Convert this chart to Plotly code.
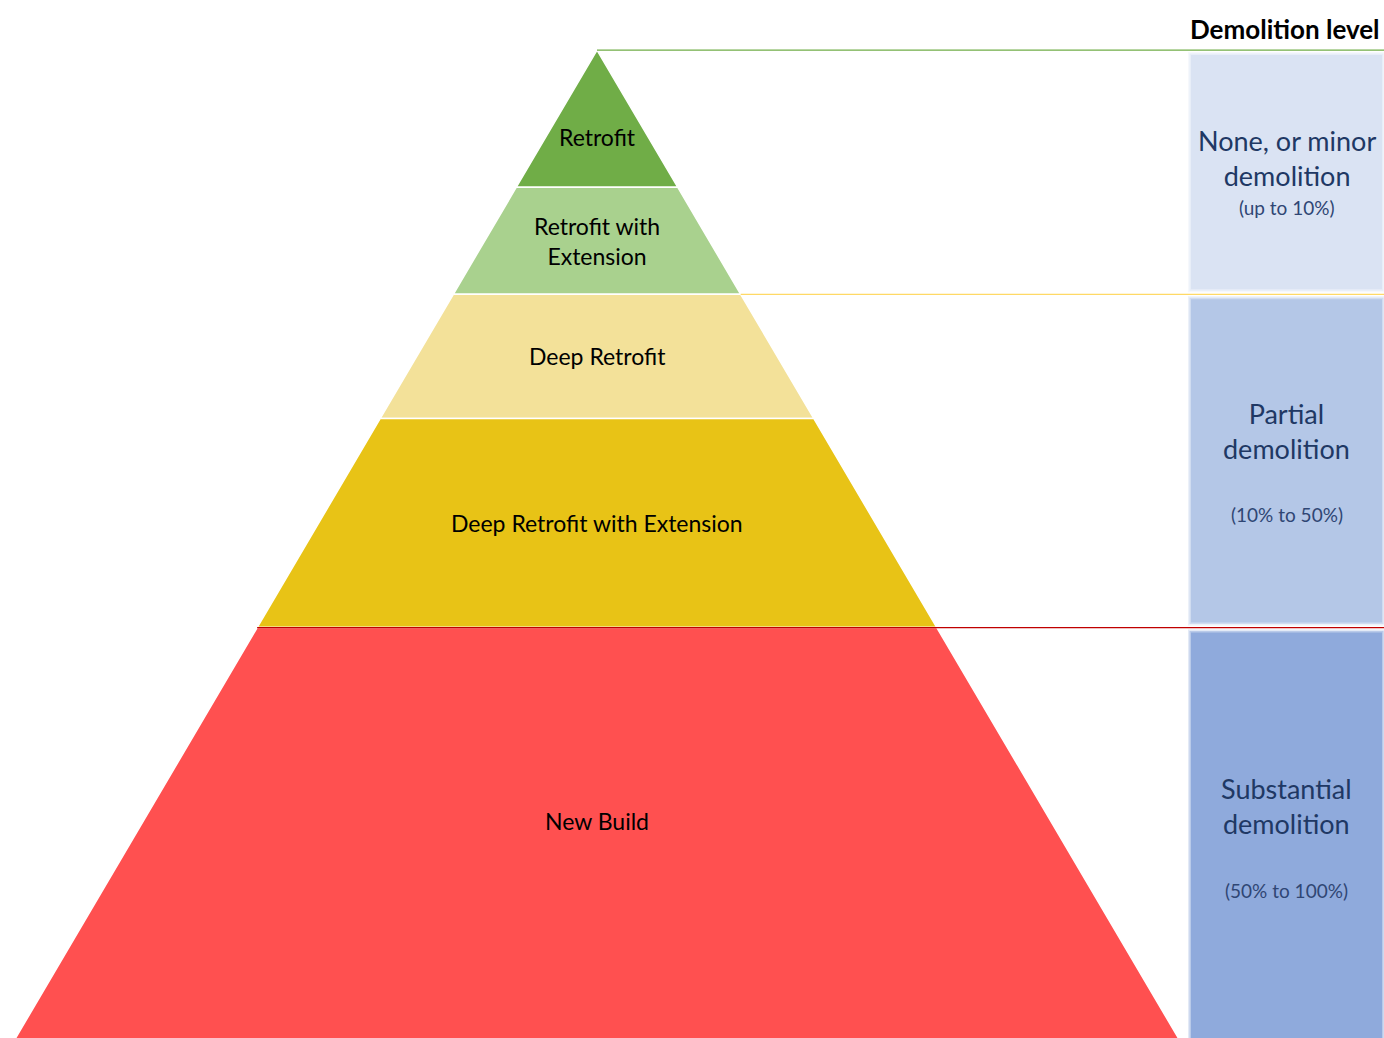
import plotly.graph_objects as go

# Pyramid layers, top to bottom; depths measured downward from the apex
layer_names = ["Retrofit", "Retrofit with<br>Extension", "Deep Retrofit",
               "Deep Retrofit with Extension", "New Build"]
layer_top = [0, 137, 244, 368, 577]
layer_bottom = [137, 244, 368, 577, 988]
layer_colors = ["#70AD47", "#A9D18E", "#F3E199", "#E8C316", "#FF5050"]

# Demolition bands on the right
band_titles = ["None, or minor<br>demolition", "Partial<br>demolition",
               "Substantial<br>demolition"]
band_ranges = ["(up to 10%)", "(10% to 50%)", "(50% to 100%)"]
band_top = [0, 244, 577]
band_bottom = [244, 577, 988]
band_colors = ["#DAE3F3", "#B4C7E7", "#8FAADC"]
band_line_colors = ["#70AD47", "#FFD966", "#C00000"]

SLOPE = 0.589          # half-width per unit of depth
FONT = "Lato"
NAVY = "#203864"

fig = go.Figure()

# pyramid slices
for name, t, b, c in zip(layer_names, layer_top, layer_bottom, layer_colors):
    ht, hb = t * SLOPE, b * SLOPE
    fig.add_trace(go.Scatter(
        x=[-ht, ht, hb, -hb, -ht], y=[t, t, b, b, t],
        mode="lines", fill="toself", fillcolor=c,
        line=dict(color="white", width=1.5),
        hoverinfo="skip", showlegend=False))

label_shift = [18, 0, 0, 0, -12]
for name, t, b, s in zip(layer_names, layer_top, layer_bottom, label_shift):
    fig.add_annotation(x=0, y=(t + b) / 2 + s, text=name, showarrow=False,
                       font=dict(family=FONT, size=23, color="black"))

# guide lines to the right margin; the lowest one runs across the pyramid
x_right = 787
for i, (t, c) in enumerate(zip(band_top, band_line_colors)):
    x_start = -t * SLOPE if i == len(band_top) - 1 else t * SLOPE
    fig.add_shape(type="line", x0=x_start, x1=x_right, y0=t, y1=t,
                  line=dict(color=c, width=1.3), layer="above")

# demolition level boxes with soft edges
bx0, bx1 = 594, 785
for i, (t, b, c) in enumerate(zip(band_top, band_bottom, band_colors)):
    y0 = t + 5
    y1 = b - 5 if i < 2 else b + 10
    for g, op in [(3, 0.25), (1.5, 0.5)]:
        fig.add_shape(type="rect", x0=bx0 - g, x1=bx1 + g, y0=y0 - g, y1=y1 + g,
                      fillcolor=c, opacity=op, line=dict(width=0), layer="below")
    fig.add_shape(type="rect", x0=bx0, x1=bx1, y0=y0, y1=y1,
                  fillcolor=c, line=dict(width=0), layer="below")

bx_mid = (bx0 + bx1) / 2
title_off = [-14, -30, -30]
range_off = [35, 53, 55]
box_centers = [(5 + 239) / 2, (249 + 572) / 2, (582 + 988) / 2]
for title, rng, cy, to, ro in zip(band_titles, band_ranges, box_centers,
                                  title_off, range_off):
    fig.add_annotation(x=bx_mid, y=cy + to, text=title, showarrow=False,
                       font=dict(family=FONT, size=27, color=NAVY))
    fig.add_annotation(x=bx_mid, y=cy + ro, text=rng, showarrow=False,
                       font=dict(family=FONT, size=19, color="#2F4674"))

fig.add_annotation(x=785, y=-21, text="<b>Demolition level</b>", showarrow=False,
                   xanchor="right", font=dict(family=FONT, size=26, color="black"))

fig.update_layout(
    width=1384, height=1038, autosize=False,
    margin=dict(l=0, r=0, t=0, b=0),
    paper_bgcolor="white", plot_bgcolor="white",
    xaxis=dict(range=[-597, 787], visible=False, fixedrange=True),
    yaxis=dict(range=[987, -50], visible=False, fixedrange=True),
)

fig.write_html("out.html")
